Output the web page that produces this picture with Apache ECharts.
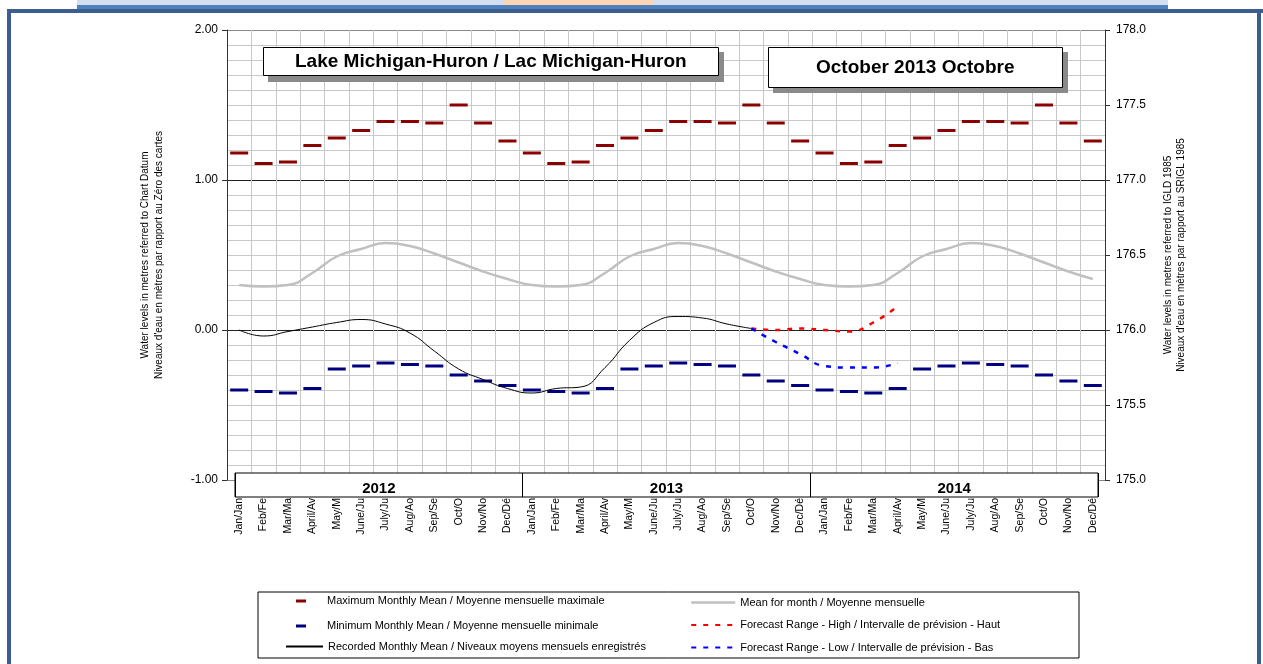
<!DOCTYPE html>
<html>
<head>
<meta charset="utf-8">
<title>Lake Michigan-Huron</title>
<script src="https://cdn.jsdelivr.net/npm/echarts@6/dist/echarts.min.js"></script>
<style>
  html, body { margin: 0; padding: 0; background: #fff; }
  #chart { width: 1263px; height: 664px; }
</style>
</head>
<body>
<div id="chart"></div>
<script>
// tick labels
const months = ['Jan/Jan', 'Feb/Fe', 'Mar/Ma', 'April/Av', 'May/M', 'June/Ju', 'July/Ju', 'Aug/Ao', 'Sep/Se', 'Oct/O', 'Nov/No', 'Dec/Dé']
const years = ['2012', '2013', '2014']

// monthly climatology (metres above chart datum), same every year
const maxMonthly = [1.18, 1.11, 1.12, 1.23, 1.28, 1.33, 1.39, 1.39, 1.38, 1.50, 1.38, 1.26]
const minMonthly = [-0.40, -0.41, -0.42, -0.39, -0.26, -0.24, -0.22, -0.23, -0.24, -0.30, -0.34, -0.37]
const meanMonthly = [0.30, 0.29, 0.30, 0.38, 0.49, 0.54, 0.58, 0.56, 0.51, 0.45, 0.39, 0.34]

// recorded Jan 2012 .. Oct 2013
const recorded = [0.00, -0.04, -0.01, 0.02, 0.05, 0.07, 0.04, -0.02, -0.14, -0.26, -0.33, -0.39,
  -0.42, -0.39, -0.38, -0.25, -0.07, 0.05, 0.09, 0.08, 0.04, 0.01]

// forecast Oct 2013 .. Apr 2014
const forecastHigh = [0.01, 0.00, 0.01, 0.00, -0.01, 0.05, 0.16]
const forecastLow = [0.01, -0.08, -0.16, -0.24, -0.25, -0.25, -0.22]

const names = {
  max: 'Maximum Monthly Mean / Moyenne mensuelle maximale',
  min: 'Minimum Monthly Mean / Moyenne mensuelle minimale',
  rec: 'Recorded Monthly Mean / Niveaux moyens mensuels enregistrés',
  mean: 'Mean for month / Moyenne mensuelle',
  high: 'Forecast Range - High / Intervalle de prévision - Haut',
  low: 'Forecast Range - Low / Intervalle de prévision - Bas'
}

const FONT = 'Liberation Sans, Arial, sans-serif'
const categories = years.flatMap(() => months)
const everyYear = arr => years.flatMap(() => arr)
const forecastPad = Array(recorded.length - 1).fill(null)

const dom = document.getElementById('chart')
const chart = echarts.init(dom, null, { renderer: 'canvas' })

const titleText = { fontFamily: FONT, fontSize: 19, fontWeight: 'bold', color: '#000' }
const legendText = { fontFamily: FONT, fontSize: 11, color: '#000' }

const option = {
  animation: false,
  backgroundColor: '#fff',
  textStyle: { fontFamily: FONT },
  title: [
    {
      text: 'Lake Michigan-Huron / Lac Michigan-Huron',
      left: 263, top: 47, z: 8,
      padding: [5, 32, 5, 32],
      backgroundColor: '#fff', borderColor: '#000', borderWidth: 1,
      textStyle: titleText
    },
    {
      text: 'October 2013 Octobre',
      left: 768, top: 47, z: 8,
      padding: [11, 48, 11, 48],
      backgroundColor: '#fff', borderColor: '#000', borderWidth: 1,
      textStyle: titleText
    }
  ],
  legend: [
    {
      orient: 'vertical', left: 296, top: 595.5, itemGap: 14, padding: 0,
      itemWidth: 10, itemHeight: 3, selectedMode: false,
      data: [{ name: names.max, icon: 'rect' }, { name: names.min, icon: 'rect' }],
      textStyle: Object.assign({ padding: [0, 0, 0, 16] }, legendText)
    },
    {
      orient: 'vertical', left: 285, top: 641, padding: 0,
      itemWidth: 37, itemHeight: 8, selectedMode: false,
      itemStyle: { opacity: 0 },
      data: [names.rec],
      textStyle: legendText
    },
    {
      orient: 'vertical', left: 690, top: 597, itemGap: 11.5, padding: 0,
      itemWidth: 44, itemHeight: 8, selectedMode: false,
      itemStyle: { opacity: 0 },
      data: [{ name: names.mean, lineStyle: { width: 2.5 } }, names.high, names.low],
      textStyle: legendText
    }
  ],
  grid: [
    { left: 227, right: 158, top: 30, bottom: 184, outerBoundsMode: 'none' },
    {
      left: 235, right: 165, top: 473, height: 24, outerBoundsMode: 'none',
      show: true, z: 3, backgroundColor: '#fff', borderColor: '#000', borderWidth: 1
    }
  ],
  xAxis: [
    {
      type: 'category', gridIndex: 0, data: categories, boundaryGap: true,
      axisLine: { show: false }, axisTick: { show: false },
      axisLabel: { interval: 0, rotate: 90, margin: 18, fontSize: 10.5, color: '#000', fontFamily: FONT },
      splitLine: { show: true, interval: 0, lineStyle: { color: '#c8c8c8', width: 1 } }
    },
    {
      type: 'category', gridIndex: 1, data: years, boundaryGap: true, z: 4,
      axisLine: { show: false }, axisTick: { show: false },
      axisLabel: { inside: true, margin: 1, fontSize: 15, fontWeight: 'bold', color: '#000', fontFamily: FONT },
      splitLine: { show: true, interval: 0, lineStyle: { color: '#000', width: 1 } }
    }
  ],
  yAxis: [
    {
      type: 'value', gridIndex: 0, min: -1, max: 2, interval: 1, position: 'left',
      name: 'Water levels in metres referred to Chart Datum\nNiveaux d\'eau en mètres par rapport au Zéro des cartes',
      nameLocation: 'middle', nameRotate: 90, nameGap: 61, nameMoveOverlap: false,
      nameTextStyle: { fontFamily: FONT, fontSize: 10, lineHeight: 14, color: '#000' },
      axisLine: { show: true, lineStyle: { color: '#333', width: 1 } },
      axisTick: { show: true, length: 5, lineStyle: { color: '#333' } },
      axisLabel: { margin: 9, fontSize: 12, color: '#000', fontFamily: FONT, formatter: v => v.toFixed(2) },
      splitLine: { show: true, lineStyle: { color: ['#888', '#222', '#222', '#888'], width: 1 } },
      minorTick: { show: false, splitNumber: 10 },
      minorSplitLine: { show: true, lineStyle: { color: '#c8c8c8', width: 1 } }
    },
    {
      type: 'value', gridIndex: 0, min: 175, max: 178, interval: 0.5, position: 'right',
      name: 'Water levels in metres referred to IGLD 1985\nNiveaux d\'eau en mètres par rapport au SRIGL 1985',
      nameLocation: 'middle', nameRotate: 90, nameGap: 57, nameMoveOverlap: false,
      nameTextStyle: { fontFamily: FONT, fontSize: 10, lineHeight: 13, color: '#000' },
      axisLine: { show: true, lineStyle: { color: '#333', width: 1 } },
      axisTick: { show: true, length: 5, lineStyle: { color: '#333' } },
      axisLabel: { margin: 11, fontSize: 12, color: '#000', fontFamily: FONT, formatter: v => v.toFixed(1) },
      splitLine: { show: false }
    },
    {
      type: 'value', gridIndex: 1, min: 0, max: 1, show: false,
      splitLine: { show: false }
    }
  ],
  series: [
    {
      name: names.mean, type: 'line', smooth: true, symbol: 'none',
      xAxisIndex: 0, yAxisIndex: 0,
      lineStyle: { color: '#c0c0c0', width: 2.5 }, itemStyle: { color: '#c0c0c0' },
      data: everyYear(meanMonthly)
    },
    {
      name: names.max, type: 'scatter', symbol: 'rect', symbolSize: [18, 3],
      xAxisIndex: 0, yAxisIndex: 0,
      itemStyle: { color: '#8b0000', opacity: 1 },
      data: everyYear(maxMonthly).map((v, i) => [i, v])
    },
    {
      name: names.min, type: 'scatter', symbol: 'rect', symbolSize: [18, 3],
      xAxisIndex: 0, yAxisIndex: 0,
      itemStyle: { color: '#000080', opacity: 1 },
      data: everyYear(minMonthly).map((v, i) => [i, v])
    },
    {
      name: names.rec, type: 'line', smooth: true, symbol: 'none',
      xAxisIndex: 0, yAxisIndex: 0,
      lineStyle: { color: '#000', width: 1 }, itemStyle: { color: '#000' },
      data: recorded
    },
    {
      name: names.high, type: 'line', smooth: true, symbol: 'none',
      xAxisIndex: 0, yAxisIndex: 0,
      lineStyle: { color: '#ff0000', width: 2.5, type: [5, 7] }, itemStyle: { color: '#ff0000' },
      data: forecastPad.concat(forecastHigh)
    },
    {
      name: names.low, type: 'line', smooth: true, symbol: 'none',
      xAxisIndex: 0, yAxisIndex: 0,
      lineStyle: { color: '#0000ff', width: 2.5, type: [5, 7] }, itemStyle: { color: '#0000ff' },
      data: forecastPad.concat(forecastLow)
    }
  ],
  graphic: [
    // page frame around the chart
    { type: 'rect', silent: true, shape: { x: 77, y: 0, width: 1091, height: 5 }, style: { fill: '#d3dff0' } },
    { type: 'rect', silent: true, shape: { x: 504, y: 0, width: 150, height: 5 }, style: { fill: '#fcd5b5' } },
    { type: 'rect', silent: true, shape: { x: 77, y: 5, width: 1091, height: 4 }, style: { fill: '#4f81bd' } },
    { type: 'rect', silent: true, shape: { x: 7, y: 9, width: 1256, height: 4 }, style: { fill: '#3b5e8f' } },
    { type: 'rect', silent: true, shape: { x: 7, y: 9, width: 4, height: 655 }, style: { fill: '#3b5e8f' } },
    { type: 'rect', silent: true, shape: { x: 1257, y: 9, width: 4, height: 655 }, style: { fill: '#3b5e8f' } },
    // drop shadows of the two title boxes
    { type: 'rect', silent: true, z: 7, shape: { x: 268, y: 52, width: 456, height: 30 }, style: { fill: '#8a8a8a' } },
    { type: 'rect', silent: true, z: 7, shape: { x: 773, y: 52, width: 295, height: 41 }, style: { fill: '#8a8a8a' } },
    // legend box
    { type: 'rect', silent: true, z: 0, shape: { x: 258, y: 592, width: 821, height: 66 }, style: { fill: 'none', stroke: '#000', lineWidth: 1 } }
  ]
}

chart.setOption(option)
window.addEventListener('resize', () => chart.resize())
</script>
</body>
</html>
